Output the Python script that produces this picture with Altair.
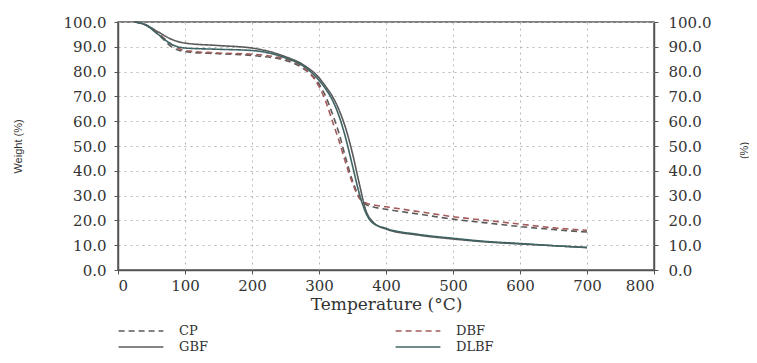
import altair as alt
import pandas as pd

temps = [25, 40, 60, 80, 100, 150, 200, 250, 275, 300, 310, 320, 330, 340, 350,
         360, 370, 380, 400, 450, 500, 550, 600, 650, 700]
cp = [100, 99, 95, 90, 88, 87.2, 86.5, 84.5, 81.5, 75, 70, 63, 55, 45, 36,
      29.5, 26.5, 25.5, 24.5, 22.5, 20.5, 19, 17.5, 16.3, 15.3]
dbf = [100, 99, 95.5, 91, 88.5, 87.5, 87, 85, 82, 74, 68, 60, 52, 43, 35,
       29, 27, 26.3, 25.5, 23.5, 21.5, 20, 18.5, 17, 16]
gbf = [100, 99, 96, 93, 91.5, 90.5, 89.5, 86, 83, 77.5, 74, 70, 64.5, 57, 47,
       35, 24, 19.5, 16.5, 14, 12.5, 11.3, 10.5, 9.8, 9]
dlbf = [100, 99, 95, 91, 89.5, 89, 88.5, 85.5, 82.5, 76.5, 73, 68.5, 62, 53, 42,
        31, 23, 19, 16.8, 14.3, 12.8, 11.5, 10.7, 9.8, 9.1]

series = {"CP": cp, "DBF": dbf, "GBF": gbf, "DLBF": dlbf}
order = ["CP", "DBF", "GBF", "DLBF"]
colors = ["#5a5a5a", "#a45a5a", "#5a5a5a", "#3f6464"]
dashes = [[6, 4], [6, 4], [1, 0], [1, 0]]

rows = []
for name in order:
    for t, v in zip(temps, series[name]):
        rows.append({"T": t, "W": v, "S": name})
df = pd.DataFrame(rows)

x_ticks = list(range(0, 801, 100))
y_ticks = list(range(0, 101, 10))
FONT = "DejaVu Serif"

leg = alt.Legend(title=None, orient="none", legendX=14, legendY=300,
                 columns=2, direction="horizontal",
                 symbolType="M-2.8,0H2.8", symbolSize=256,
                 symbolStrokeWidth=1.6, labelOffset=29,
                 columnPadding=184, rowPadding=0,
                 labelFont=FONT, labelFontSize=13, labelColor="#333")

xscale = alt.Scale(domain=[0, 800], nice=False)
yscale = alt.Scale(domain=[0, 100], nice=False)

lines = alt.Chart(df).mark_line(strokeWidth=1.6, interpolate="monotone").encode(
    x=alt.X("T:Q", scale=xscale,
            axis=alt.Axis(values=x_ticks, title="Temperature (°C)", format="d",
                          grid=True, gridDash=[2, 4], gridColor="#b8b8b8",
                          tickSize=4, labelPadding=4, titlePadding=3)),
    y=alt.Y("W:Q", scale=yscale,
            axis=alt.Axis(values=y_ticks, format=".1f", title="Weight (%)",
                          grid=True, gridDash=[2, 4], gridColor="#b8b8b8",
                          tickSize=4, labelPadding=8,
                          titleFont="Liberation Sans", titleFontSize=11,
                          titleX=-95, titleY=124)),
    color=alt.Color("S:N", sort=order,
                    scale=alt.Scale(domain=order, range=colors), legend=leg),
    strokeDash=alt.StrokeDash("S:N", sort=order,
                              scale=alt.Scale(domain=order, range=dashes), legend=leg),
)

right = alt.Chart(df).mark_line(opacity=0).encode(
    x=alt.X("T:Q", scale=xscale),
    y=alt.Y("W:Q", scale=yscale,
            axis=alt.Axis(orient="right", values=y_ticks, format=".1f", title="(%)",
                          grid=False, tickSize=4, labelPadding=10,
                          titleFont="Liberation Sans", titleFontSize=11,
                          titleX=95, titleY=128, titleAngle=-90)),
)

chart = alt.layer(lines, right).resolve_scale(y="independent").properties(
    width=536, height=248,
    background="white",
    autosize=alt.AutoSizeParams(type="none"),
    padding={"left": 110, "top": 14, "right": 95, "bottom": 85},
).configure_view(stroke="#555", strokeWidth=1.5).configure_axis(
    labelFont=FONT, labelFontSize=15, labelColor="#333",
    titleFont=FONT, titleFontSize=17, titleColor="#333", titleFontWeight="normal",
    domainColor="#555", domainWidth=1.5, tickColor="#555",
)

chart.save("out.html", embed_options={"renderer": "svg", "actions": False})
